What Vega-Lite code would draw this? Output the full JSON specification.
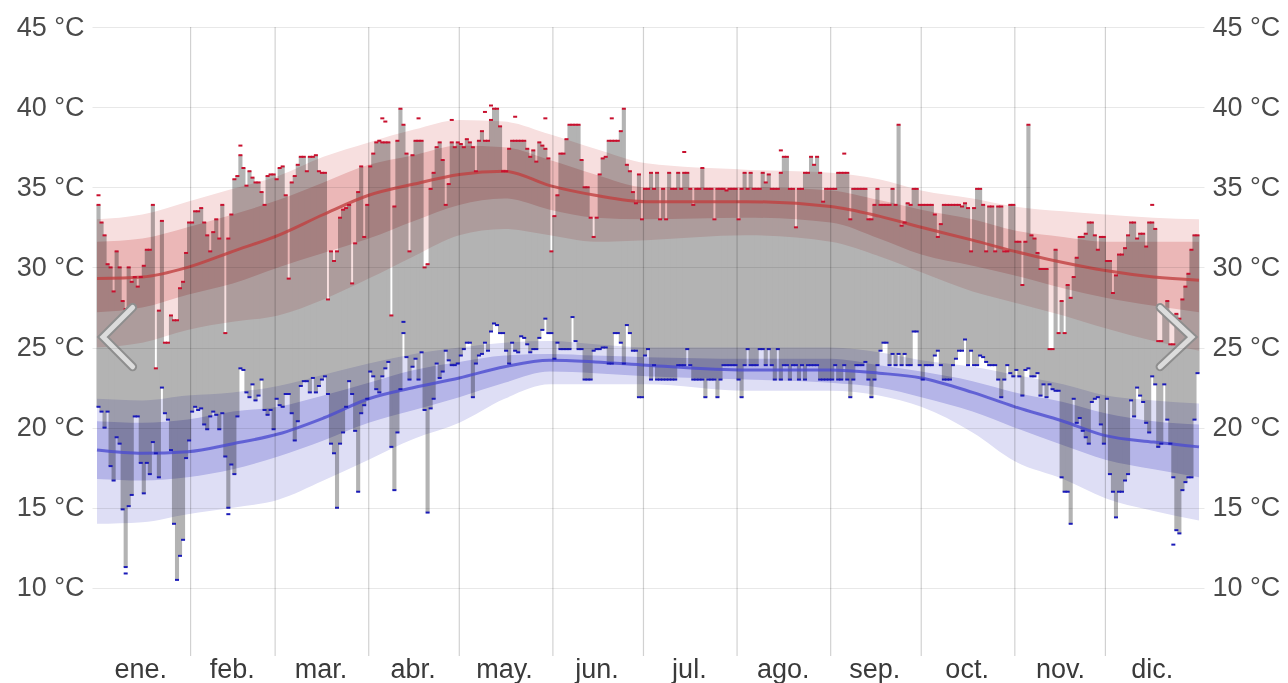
{
"$schema": "https://vega.github.io/schema/vega-lite/v6.json",
"width": 1112, "height": 629,
"autosize": {"type": "none"},
"padding": {"left": 92, "top": 27, "right": 84, "bottom": 27},
"background": "white",
"config": {"view": {"stroke": null}, "font": "Liberation Sans"},
"datasets": {
"days": [
{"d":0,"l":21.3,"h":33.9,"hx":34.5},{"d":1,"l":21.0,"h":32.8},{"d":2,"l":20.0,"h":32.0},{"d":3,"l":21.0,"h":30.2},{"d":4,"l":17.6,"h":30.0},{"d":5,"l":16.7,"h":28.5},{"d":6,"l":19.4,"h":31.0},{"d":7,"l":19.0,"h":30.0},{"d":8,"l":14.9,"h":27.9},{"d":9,"l":11.3,"h":27.4,"lx":10.9},
{"d":10,"l":15.1,"h":30.0},{"d":11,"l":15.8,"h":29.1},{"d":12,"l":20.7,"h":29.4},{"d":13,"l":20.7,"h":28.8},{"d":14,"l":17.8,"h":29.4},{"d":15,"l":15.9,"h":30.1},{"d":16,"l":17.8,"h":31.1},{"d":17,"l":17.1,"h":31.1},{"d":18,"l":19.1,"h":33.9},{"d":19,"l":18.4,"h":23.7},
{"d":20,"l":16.9,"h":27.3},{"d":21,"l":22.5,"h":32.9},{"d":22,"l":20.9,"h":25.3},{"d":23,"l":20.5,"h":25.3},{"d":24,"l":18.6,"h":27.0},{"d":25,"l":14.0,"h":26.7},{"d":26,"l":10.5,"h":26.7},{"d":27,"l":12.0,"h":28.7},{"d":28,"l":13.0,"h":29.1},{"d":29,"l":18.1,"h":30.9},
{"d":30,"l":19.2,"h":32.8},{"d":31,"l":21.0,"h":32.8},{"d":32,"l":21.3,"h":33.5},{"d":33,"l":21.1,"h":33.5},{"d":34,"l":21.2,"h":33.7},{"d":35,"l":20.2,"h":32.8},{"d":36,"l":19.9,"h":32.0},{"d":37,"l":20.7,"h":31.0},{"d":38,"l":21.0,"h":32.2},{"d":39,"l":20.8,"h":33.0},
{"d":40,"l":19.9,"h":31.8},{"d":41,"l":20.9,"h":33.9},{"d":42,"l":18.2,"h":25.9},{"d":43,"l":15.0,"h":31.8,"lx":14.6},{"d":44,"l":17.7,"h":33.3},{"d":45,"l":17.1,"h":35.5},{"d":46,"l":20.7,"h":35.7},{"d":47,"l":23.7,"h":37.0,"hx":37.6},{"d":48,"l":23.6,"h":36.2},{"d":49,"l":22.2,"h":35.1},
{"d":50,"l":21.9,"h":36.0},{"d":51,"l":22.7,"h":35.6},{"d":52,"l":21.7,"h":35.3},{"d":53,"l":22.0,"h":35.3},{"d":54,"l":23.0,"h":34.7},{"d":55,"l":21.1,"h":33.9},{"d":56,"l":20.8,"h":35.7},{"d":57,"l":21.1,"h":35.8},{"d":58,"l":19.9,"h":35.8},{"d":59,"l":21.8,"h":35.5},
{"d":60,"l":21.4,"h":36.2},{"d":61,"l":21.3,"h":36.3},{"d":62,"l":22.1,"h":34.5},{"d":63,"l":22.1,"h":29.3},{"d":64,"l":20.9,"h":35.3},{"d":65,"l":19.2,"h":35.7},{"d":66,"l":20.4,"h":36.4},{"d":67,"l":22.6,"h":36.9},{"d":68,"l":22.9,"h":36.9},{"d":69,"l":22.9,"h":36.0},
{"d":70,"l":22.2,"h":36.9},{"d":71,"l":23.1,"h":36.9},{"d":72,"l":22.2,"h":37.0},{"d":73,"l":22.6,"h":36.0},{"d":74,"l":23.0,"h":35.9},{"d":75,"l":23.2,"h":35.9},{"d":76,"l":22.1,"h":28.0},{"d":77,"l":19.0,"h":31.0},{"d":78,"l":18.4,"h":30.4},{"d":79,"l":15.0,"h":31.0},
{"d":80,"l":19.0,"h":33.1},{"d":81,"l":19.7,"h":33.6},{"d":82,"l":21.3,"h":33.7},{"d":83,"l":22.9,"h":33.9},{"d":84,"l":22.1,"h":29.0},{"d":85,"l":19.8,"h":31.5},{"d":86,"l":16.0,"h":34.7},{"d":87,"l":20.9,"h":36.3},{"d":88,"l":21.4,"h":31.9},{"d":89,"l":21.8,"h":33.9},
{"d":90,"l":23.5,"h":36.3},{"d":91,"l":23.2,"h":37.1},{"d":92,"l":22.4,"h":37.8},{"d":93,"l":22.2,"h":37.9},{"d":94,"l":23.2,"h":37.8,"hx":39.3},{"d":95,"l":23.7,"h":37.8,"hx":39.1},{"d":96,"l":24.1,"h":37.8},{"d":97,"l":18.8,"h":27.0},{"d":98,"l":16.1,"h":33.8},{"d":99,"l":19.7,"h":37.9},
{"d":100,"l":22.4,"h":39.9},{"d":101,"l":25.9,"h":38.9,"lx":26.6},{"d":102,"l":24.4,"h":37.1},{"d":103,"l":23.0,"h":31.0},{"d":104,"l":23.8,"h":37.0},{"d":105,"l":24.3,"h":37.9},{"d":106,"l":23.0,"h":37.9,"hx":39.3},{"d":107,"l":24.7,"h":37.9},{"d":108,"l":21.1,"h":30.0},{"d":109,"l":14.7,"h":30.2},
{"d":110,"l":21.2,"h":34.9},{"d":111,"l":21.8,"h":35.9},{"d":112,"l":24.0,"h":37.5},{"d":113,"l":23.1,"h":37.8},{"d":114,"l":23.5,"h":36.7},{"d":115,"l":24.8,"h":33.9},{"d":116,"l":24.2,"h":35.2},{"d":117,"l":23.9,"h":37.8,"hx":39.2},{"d":118,"l":23.9,"h":37.5},{"d":119,"l":24.0,"h":37.8},
{"d":120,"l":24.5,"h":37.7},{"d":121,"l":24.9,"h":37.5},{"d":122,"l":25.3,"h":38.0},{"d":123,"l":25.3,"h":37.8},{"d":124,"l":21.9,"h":37.5},{"d":125,"l":24.0,"h":36.0},{"d":126,"l":24.5,"h":37.9},{"d":127,"l":24.6,"h":38.5},{"d":128,"l":25.3,"h":37.9,"hx":39.7},{"d":129,"l":24.8,"h":37.9},
{"d":130,"l":26.0,"h":39.2,"hx":40.1},{"d":131,"l":26.5,"h":39.9},{"d":132,"l":26.4,"h":39.9},{"d":133,"l":25.9,"h":38.8},{"d":134,"l":25.9,"h":36.0},{"d":135,"l":24.8,"h":36.0},{"d":136,"l":24.0,"h":37.4},{"d":137,"l":25.3,"h":37.9},{"d":138,"l":24.8,"h":37.9,"hx":39.4},{"d":139,"l":24.7,"h":37.9},
{"d":140,"l":25.7,"h":37.9},{"d":141,"l":25.6,"h":37.9},{"d":142,"l":25.2,"h":37.4},{"d":143,"l":24.7,"h":36.9},{"d":144,"l":24.9,"h":37.3},{"d":145,"l":24.9,"h":36.6},{"d":146,"l":25.6,"h":37.8},{"d":147,"l":26.1,"h":37.6},{"d":148,"l":26.8,"h":37.4,"hx":39.3},{"d":149,"l":25.9,"h":36.8},
{"d":150,"l":25.9,"h":31.0},{"d":151,"l":24.3,"h":33.2},{"d":152,"l":25.3,"h":34.5},{"d":153,"l":24.9,"h":37.1},{"d":154,"l":24.9,"h":37.1},{"d":155,"l":24.9,"h":38.0},{"d":156,"l":24.9,"h":38.9},{"d":157,"l":26.9,"h":38.9},{"d":158,"l":25.4,"h":38.9},{"d":159,"l":24.9,"h":38.9},
{"d":160,"l":24.9,"h":36.7},{"d":161,"l":23.0,"h":35.0},{"d":162,"l":23.0,"h":35.0},{"d":163,"l":23.0,"h":33.1},{"d":164,"l":24.8,"h":31.9},{"d":165,"l":24.9,"h":33.1},{"d":166,"l":24.9,"h":35.8},{"d":167,"l":25.0,"h":36.8},{"d":168,"l":25.0,"h":36.9},{"d":169,"l":24.0,"h":37.9},
{"d":170,"l":24.0,"h":37.9,"hx":39.3},{"d":171,"l":25.9,"h":37.9},{"d":172,"l":25.9,"h":37.9},{"d":173,"l":25.3,"h":38.5},{"d":174,"l":24.0,"h":39.9},{"d":175,"l":26.4,"h":36.4},{"d":176,"l":25.9,"h":36.0},{"d":177,"l":24.8,"h":34.7},{"d":178,"l":24.8,"h":34.0},{"d":179,"l":21.9,"h":35.8},
{"d":180,"l":21.9,"h":33.0},{"d":181,"l":24.5,"h":34.9},{"d":182,"l":24.9,"h":34.9},{"d":183,"l":23.0,"h":35.9},{"d":184,"l":23.9,"h":34.9},{"d":185,"l":23.0,"h":35.9},{"d":186,"l":23.0,"h":33.0},{"d":187,"l":23.0,"h":34.9},{"d":188,"l":23.0,"h":33.0},{"d":189,"l":23.0,"h":35.9},
{"d":190,"l":23.0,"h":34.9},{"d":191,"l":23.0,"h":34.9},{"d":192,"l":23.9,"h":35.9},{"d":193,"l":23.9,"h":34.9},{"d":194,"l":23.9,"h":35.9,"hx":37.2},{"d":195,"l":24.9,"h":35.9},{"d":196,"l":23.9,"h":34.9},{"d":197,"l":23.0,"h":33.9},{"d":198,"l":23.0,"h":34.9},{"d":199,"l":23.0,"h":34.9},
{"d":200,"l":23.0,"h":36.2},{"d":201,"l":21.9,"h":34.9},{"d":202,"l":23.0,"h":34.9},{"d":203,"l":23.0,"h":34.9},{"d":204,"l":23.0,"h":33.0},{"d":205,"l":21.9,"h":34.9},{"d":206,"l":23.0,"h":34.9},{"d":207,"l":23.9,"h":34.9},{"d":208,"l":23.9,"h":34.8},{"d":209,"l":23.9,"h":34.9},
{"d":210,"l":23.9,"h":34.9},{"d":211,"l":23.9,"h":34.9},{"d":212,"l":23.0,"h":33.0},{"d":213,"l":21.9,"h":34.9},{"d":214,"l":23.9,"h":35.9},{"d":215,"l":24.9,"h":34.9},{"d":216,"l":23.9,"h":35.9},{"d":217,"l":23.9,"h":34.9},{"d":218,"l":23.9,"h":34.9},{"d":219,"l":24.9,"h":34.9},
{"d":220,"l":24.9,"h":35.9},{"d":221,"l":23.9,"h":35.3},{"d":222,"l":24.9,"h":35.8},{"d":223,"l":23.9,"h":34.9},{"d":224,"l":23.0,"h":34.9},{"d":225,"l":24.9,"h":34.9},{"d":226,"l":23.0,"h":35.9,"hx":37.3},{"d":227,"l":23.9,"h":36.9},{"d":228,"l":23.9,"h":36.9},{"d":229,"l":23.0,"h":34.9},
{"d":230,"l":23.9,"h":34.9},{"d":231,"l":23.9,"h":32.5},{"d":232,"l":23.0,"h":34.9},{"d":233,"l":23.9,"h":34.9},{"d":234,"l":23.0,"h":35.9},{"d":235,"l":23.9,"h":35.9},{"d":236,"l":23.9,"h":36.9},{"d":237,"l":23.9,"h":36.4},{"d":238,"l":23.9,"h":36.9},{"d":239,"l":23.0,"h":35.9},
{"d":240,"l":23.0,"h":34.1},{"d":241,"l":23.0,"h":34.9},{"d":242,"l":23.0,"h":34.9},{"d":243,"l":23.0,"h":34.9},{"d":244,"l":23.9,"h":34.9},{"d":245,"l":23.0,"h":35.9},{"d":246,"l":23.0,"h":35.9},{"d":247,"l":23.9,"h":35.9,"hx":37.1},{"d":248,"l":23.0,"h":35.9},{"d":249,"l":21.9,"h":33.0},
{"d":250,"l":23.0,"h":34.9},{"d":251,"l":23.9,"h":34.9},{"d":252,"l":23.9,"h":34.9},{"d":253,"l":23.9,"h":34.9},{"d":254,"l":24.1,"h":34.9},{"d":255,"l":23.0,"h":33.0},{"d":256,"l":21.9,"h":33.0},{"d":257,"l":23.0,"h":33.9},{"d":258,"l":23.9,"h":34.9},{"d":259,"l":24.8,"h":33.9},
{"d":260,"l":25.3,"h":33.9},{"d":261,"l":25.3,"h":33.9},{"d":262,"l":23.9,"h":33.9},{"d":263,"l":24.6,"h":34.9},{"d":264,"l":23.9,"h":33.9},{"d":265,"l":24.6,"h":38.9},{"d":266,"l":23.9,"h":32.6},{"d":267,"l":24.6,"h":32.8},{"d":268,"l":23.9,"h":34.0},{"d":269,"l":23.9,"h":33.9},
{"d":270,"l":26.0,"h":34.9},{"d":271,"l":26.0,"h":34.9},{"d":272,"l":23.9,"h":33.9},{"d":273,"l":23.0,"h":33.9},{"d":274,"l":23.9,"h":33.9},{"d":275,"l":23.9,"h":33.9},{"d":276,"l":23.9,"h":33.9},{"d":277,"l":24.5,"h":33.3},{"d":278,"l":24.8,"h":31.9},{"d":279,"l":23.9,"h":32.7},
{"d":280,"l":23.0,"h":33.9},{"d":281,"l":23.0,"h":33.9},{"d":282,"l":23.0,"h":33.9},{"d":283,"l":23.9,"h":33.9},{"d":284,"l":24.3,"h":33.9},{"d":285,"l":24.8,"h":33.9},{"d":286,"l":24.8,"h":33.8},{"d":287,"l":25.5,"h":34.0},{"d":288,"l":23.9,"h":33.7},{"d":289,"l":24.8,"h":31.0},
{"d":290,"l":23.9,"h":33.7},{"d":291,"l":23.9,"h":34.9},{"d":292,"l":24.5,"h":34.9},{"d":293,"l":24.4,"h":33.9},{"d":294,"l":24.1,"h":31.0},{"d":295,"l":23.9,"h":33.8},{"d":296,"l":23.9,"h":33.8},{"d":297,"l":23.9,"h":31.0},{"d":298,"l":23.0,"h":33.8},{"d":299,"l":21.9,"h":33.8},
{"d":300,"l":23.0,"h":31.0},{"d":301,"l":23.9,"h":31.0},{"d":302,"l":23.4,"h":33.9},{"d":303,"l":23.2,"h":33.9},{"d":304,"l":23.6,"h":31.6},{"d":305,"l":23.2,"h":31.6},{"d":306,"l":22.0,"h":28.9},{"d":307,"l":23.6,"h":31.6},{"d":308,"l":23.7,"h":38.9},{"d":309,"l":23.2,"h":32.0},
{"d":310,"l":23.2,"h":31.8},{"d":311,"l":23.4,"h":30.9},{"d":312,"l":22.0,"h":29.9},{"d":313,"l":22.7,"h":29.9},{"d":314,"l":21.9,"h":29.9},{"d":315,"l":22.7,"h":24.9},{"d":316,"l":22.4,"h":24.9},{"d":317,"l":22.3,"h":31.1},{"d":318,"l":22.3,"h":25.9},{"d":319,"l":16.9,"h":27.9},
{"d":320,"l":16.0,"h":25.9},{"d":321,"l":16.0,"h":28.9},{"d":322,"l":14.0,"h":28.1},{"d":323,"l":21.8,"h":29.4},{"d":324,"l":20.3,"h":30.6},{"d":325,"l":20.6,"h":31.9},{"d":326,"l":19.8,"h":31.9},{"d":327,"l":19.4,"h":32.1},{"d":328,"l":19.0,"h":32.8},{"d":329,"l":21.6,"h":32.8},
{"d":330,"l":21.8,"h":32.0},{"d":331,"l":21.9,"h":31.1},{"d":332,"l":20.2,"h":31.9},{"d":333,"l":19.0,"h":31.9},{"d":334,"l":21.8,"h":30.4},{"d":335,"l":17.1,"h":30.4},{"d":336,"l":16.0,"h":28.4},{"d":337,"l":14.4,"h":29.5},{"d":338,"l":16.0,"h":30.8},{"d":339,"l":16.0,"h":30.8},
{"d":340,"l":16.7,"h":31.2},{"d":341,"l":17.1,"h":32.0},{"d":342,"l":21.7,"h":32.8},{"d":343,"l":20.7,"h":32.8},{"d":344,"l":22.5,"h":31.8},{"d":345,"l":22.0,"h":32.1},{"d":346,"l":21.6,"h":32.1},{"d":347,"l":20.3,"h":31.3},{"d":348,"l":19.7,"h":32.8},{"d":349,"l":23.2,"h":32.8,"hx":33.9},
{"d":350,"l":22.7,"h":32.4},{"d":351,"l":18.8,"h":25.4},{"d":352,"l":19.0,"h":25.4},{"d":353,"l":22.7,"h":27.4},{"d":354,"l":20.5,"h":27.9},{"d":355,"l":19.0,"h":25.2},{"d":356,"l":16.9,"h":25.2,"lx":12.7},{"d":357,"l":13.6,"h":27.1},{"d":358,"l":13.4,"h":26.8},{"d":359,"l":16.1,"h":28.0},
{"d":360,"l":16.6,"h":28.8},{"d":361,"l":16.9,"h":29.6},{"d":362,"l":16.9,"h":31.1},{"d":363,"l":20.5,"h":32.0},{"d":364,"l":23.4,"h":32.0}
],
"clim": [
{"x":-0.5,"h90":33.0,"h75":31.6,"h":29.3,"h25":27.2,"h10":25.0,"l90":21.8,"l75":20.4,"l":18.6,"l25":16.8,"l10":14.0},
{"x":14.5,"h90":33.3,"h75":31.8,"h":29.4,"h25":27.5,"h10":25.3,"l90":21.7,"l75":20.3,"l":18.4,"l25":16.7,"l10":14.1},
{"x":29.5,"h90":34.1,"h75":32.5,"h":30.0,"h25":28.3,"h10":26.1,"l90":22.0,"l75":20.5,"l":18.5,"l25":16.9,"l10":14.6},
{"x":44.5,"h90":34.9,"h75":33.3,"h":31.0,"h25":29.0,"h10":26.6,"l90":22.2,"l75":21.0,"l":19.0,"l25":17.4,"l10":15.0},
{"x":59.5,"h90":35.7,"h75":34.2,"h":32.0,"h25":30.0,"h10":27.0,"l90":22.6,"l75":21.3,"l":19.6,"l25":18.2,"l10":15.5},
{"x":74.5,"h90":36.9,"h75":35.3,"h":33.3,"h25":30.9,"h10":28.0,"l90":23.3,"l75":22.0,"l":20.6,"l25":19.2,"l10":16.7},
{"x":89.5,"h90":37.8,"h75":36.4,"h":34.5,"h25":31.8,"h10":29.3,"l90":24.0,"l75":22.8,"l":21.8,"l25":20.3,"l10":18.0},
{"x":104.5,"h90":38.6,"h75":37.0,"h":35.2,"h25":32.9,"h10":30.7,"l90":24.6,"l75":23.6,"l":22.5,"l25":21.1,"l10":19.3},
{"x":119.5,"h90":39.2,"h75":37.6,"h":35.8,"h25":33.9,"h10":32.0,"l90":25.0,"l75":24.1,"l":23.1,"l25":21.9,"l10":20.3},
{"x":134.5,"h90":39.1,"h75":37.5,"h":36.0,"h25":34.3,"h10":32.4,"l90":25.3,"l75":24.5,"l":23.8,"l25":22.8,"l10":21.8},
{"x":149.5,"h90":38.3,"h75":36.7,"h":35.1,"h25":33.6,"h10":32.0,"l90":25.4,"l75":24.6,"l":24.2,"l25":23.5,"l10":22.7},
{"x":164.5,"h90":37.4,"h75":35.8,"h":34.5,"h25":33.1,"h10":31.6,"l90":25.2,"l75":24.5,"l":24.1,"l25":23.4,"l10":22.7},
{"x":181.5,"h90":36.5,"h75":35.0,"h":34.1,"h25":33.0,"h10":31.7,"l90":25.0,"l75":24.4,"l":23.9,"l25":23.2,"l10":22.7},
{"x":214.5,"h90":36.1,"h75":35.0,"h":34.1,"h25":33.1,"h10":32.0,"l90":25.0,"l75":24.3,"l":23.6,"l25":23.0,"l10":22.3},
{"x":242.5,"h90":35.9,"h75":34.8,"h":33.8,"h25":32.8,"h10":31.6,"l90":25.0,"l75":24.3,"l":23.6,"l25":22.8,"l10":22.3},
{"x":258.5,"h90":35.5,"h75":34.2,"h":33.2,"h25":31.8,"h10":30.7,"l90":24.7,"l75":23.9,"l":23.4,"l25":22.5,"l10":22.0},
{"x":272.5,"h90":34.8,"h75":33.6,"h":32.5,"h25":30.8,"h10":29.7,"l90":24.2,"l75":23.5,"l":23.1,"l25":21.9,"l10":21.3},
{"x":289.5,"h90":34.3,"h75":33.0,"h":31.7,"h25":30.1,"h10":28.5,"l90":23.8,"l75":22.9,"l":22.2,"l25":21.0,"l10":19.7},
{"x":303.5,"h90":33.8,"h75":32.3,"h":31.0,"h25":29.5,"h10":27.8,"l90":23.3,"l75":22.2,"l":21.3,"l25":20.0,"l10":17.9},
{"x":319.5,"h90":33.5,"h75":31.9,"h":30.3,"h25":28.7,"h10":27.0,"l90":22.7,"l75":21.6,"l":20.4,"l25":18.9,"l10":16.8},
{"x":333.5,"h90":33.3,"h75":31.6,"h":29.8,"h25":28.1,"h10":26.2,"l90":22.0,"l75":20.9,"l":19.5,"l25":18.0,"l10":15.6},
{"x":349.5,"h90":33.1,"h75":31.6,"h":29.4,"h25":27.6,"h10":25.4,"l90":21.7,"l75":20.4,"l":19.1,"l25":17.4,"l10":14.8},
{"x":364.5,"h90":33.0,"h75":31.6,"h":29.2,"h25":27.2,"h10":24.8,"l90":21.5,"l75":20.2,"l":18.8,"l25":16.9,"l10":14.2}
],
"months": [{"s":30.5},{"s":58.5},{"s":89.5},{"s":119.5},{"s":150.5},{"s":180.5},{"s":211.5},{"s":242.5},{"s":272.5},{"s":303.5},{"s":333.5}],
"mlab": [{"m":"ene.","c":14},{"m":"feb.","c":44.3},{"m":"mar.","c":73.7},{"m":"abr.","c":104.2},{"m":"may.","c":134.5},{"m":"jun.","c":165.1},{"m":"jul.","c":195.7},{"m":"ago.","c":226.8},{"m":"sep.","c":257.1},{"m":"oct.","c":287.7},{"m":"nov.","c":318.6},{"m":"dic.","c":349}],
"nav": [
{"g":"L","o":0,"x":11.3,"y":27.5},{"g":"L","o":1,"x":1.5,"y":25.65},{"g":"L","o":2,"x":11.3,"y":23.8},
{"g":"R","o":0,"x":351.6,"y":27.5},{"g":"R","o":1,"x":362.1,"y":25.65},{"g":"R","o":2,"x":351.6,"y":23.8}
]
},
"layer": [
{"data": {"name": "days"},
 "mark": {"type": "bar", "orient": "vertical", "size": 4.1, "color": "#b3b3b3"},
 "encoding": {
  "x": {"field": "d", "type": "quantitative", "scale": {"domain": [-0.5, 364.5], "nice": false, "zero": false}, "axis": null},
  "y": {"field": "l", "type": "quantitative", "scale": {"domain": [5.75, 45], "nice": false, "zero": false},
        "axis": {"orient": "left", "values": [10, 15, 20, 25, 30, 35, 40, 45], "labelExpr": "datum.value + ' °C'",
                 "grid": true, "gridColor": "#000000", "gridOpacity": 0.09, "ticks": false, "domain": false, "title": null,
                 "labelFontSize": 27, "labelColor": "#4a4a4a", "labelPadding": 8, "zindex": 1}},
  "y2": {"field": "h"}
 }},
{"data": {"name": "clim"},
 "mark": {"type": "area", "interpolate": "monotone", "color": "#f7dfdf", "blend": "multiply"},
 "encoding": {"x": {"field": "x", "type": "quantitative", "scale": {"domain": [-0.5, 364.5], "nice": false, "zero": false}, "axis": null},
  "y": {"field": "h10", "type": "quantitative", "scale": {"domain": [5.75, 45], "nice": false, "zero": false}, "axis": null}, "y2": {"field": "h90"}}},
{"data": {"name": "clim"},
 "mark": {"type": "area", "interpolate": "monotone", "color": "#f3d2d2", "blend": "multiply"},
 "encoding": {"x": {"field": "x", "type": "quantitative", "scale": {"domain": [-0.5, 364.5], "nice": false, "zero": false}, "axis": null},
  "y": {"field": "h25", "type": "quantitative", "scale": {"domain": [5.75, 45], "nice": false, "zero": false}, "axis": null}, "y2": {"field": "h75"}}},
{"data": {"name": "clim"},
 "mark": {"type": "area", "interpolate": "monotone", "color": "#dedef5", "blend": "multiply"},
 "encoding": {"x": {"field": "x", "type": "quantitative", "scale": {"domain": [-0.5, 364.5], "nice": false, "zero": false}, "axis": null},
  "y": {"field": "l10", "type": "quantitative", "scale": {"domain": [5.75, 45], "nice": false, "zero": false}, "axis": null}, "y2": {"field": "l90"}}},
{"data": {"name": "clim"},
 "mark": {"type": "area", "interpolate": "monotone", "color": "#d0d0f2", "blend": "multiply"},
 "encoding": {"x": {"field": "x", "type": "quantitative", "scale": {"domain": [-0.5, 364.5], "nice": false, "zero": false}, "axis": null},
  "y": {"field": "l25", "type": "quantitative", "scale": {"domain": [5.75, 45], "nice": false, "zero": false}, "axis": null}, "y2": {"field": "l75"}}},
{"data": {"name": "clim"},
 "mark": {"type": "line", "interpolate": "monotone", "color": "#c04040", "strokeWidth": 3, "opacity": 0.8},
 "encoding": {"x": {"field": "x", "type": "quantitative", "scale": {"domain": [-0.5, 364.5], "nice": false, "zero": false}, "axis": null},
  "y": {"field": "h", "type": "quantitative", "scale": {"domain": [5.75, 45], "nice": false, "zero": false}, "axis": null}}},
{"data": {"name": "clim"},
 "mark": {"type": "line", "interpolate": "monotone", "color": "#4c4cd0", "strokeWidth": 3, "opacity": 0.8},
 "encoding": {"x": {"field": "x", "type": "quantitative", "scale": {"domain": [-0.5, 364.5], "nice": false, "zero": false}, "axis": null},
  "y": {"field": "l", "type": "quantitative", "scale": {"domain": [5.75, 45], "nice": false, "zero": false},
        "axis": {"orient": "right", "values": [10, 15, 20, 25, 30, 35, 40, 45], "labelExpr": "datum.value + ' °C'",
                 "grid": false, "ticks": false, "domain": false, "title": null,
                 "labelFontSize": 27, "labelColor": "#4a4a4a", "labelPadding": 8}}}},
{"data": {"name": "months"},
 "mark": {"type": "rule", "color": "#000000", "opacity": 0.18, "strokeWidth": 1.2},
 "encoding": {"x": {"field": "s", "type": "quantitative", "scale": {"domain": [-0.5, 364.5], "nice": false, "zero": false}, "axis": null}}},
{"data": {"name": "mlab"},
 "mark": {"type": "text", "fontSize": 27, "color": "#3a3a3a", "align": "center", "baseline": "alphabetic"},
 "encoding": {"x": {"field": "c", "type": "quantitative", "scale": {"domain": [-0.5, 364.5], "nice": false, "zero": false}, "axis": null},
  "y": {"datum": 4.35, "type": "quantitative", "scale": {"domain": [5.75, 45], "nice": false, "zero": false}, "axis": null},
  "text": {"field": "m"}}},
{"data": {"name": "days"},
 "mark": {"type": "point", "shape": "M-1,-0.5H1V0.5H-1Z", "size": 16, "filled": true, "color": "#c8102e", "opacity": 1},
 "encoding": {"x": {"field": "d", "type": "quantitative", "scale": {"domain": [-0.5, 364.5], "nice": false, "zero": false}, "axis": null},
  "y": {"field": "h", "type": "quantitative", "scale": {"domain": [5.75, 45], "nice": false, "zero": false}, "axis": null}}},
{"data": {"name": "days"},
 "mark": {"type": "point", "shape": "M-1,-0.5H1V0.5H-1Z", "size": 16, "filled": true, "color": "#1a1ab8", "opacity": 1},
 "encoding": {"x": {"field": "d", "type": "quantitative", "scale": {"domain": [-0.5, 364.5], "nice": false, "zero": false}, "axis": null},
  "y": {"field": "l", "type": "quantitative", "scale": {"domain": [5.75, 45], "nice": false, "zero": false}, "axis": null}}},
{"data": {"name": "days"},
 "transform": [{"filter": "isValid(datum.hx)"}],
 "mark": {"type": "point", "shape": "M-1,-0.5H1V0.5H-1Z", "size": 16, "filled": true, "color": "#c8102e", "opacity": 1},
 "encoding": {"x": {"field": "d", "type": "quantitative", "scale": {"domain": [-0.5, 364.5], "nice": false, "zero": false}, "axis": null},
  "y": {"field": "hx", "type": "quantitative", "scale": {"domain": [5.75, 45], "nice": false, "zero": false}, "axis": null}}},
{"data": {"name": "days"},
 "transform": [{"filter": "isValid(datum.lx)"}],
 "mark": {"type": "point", "shape": "M-1,-0.5H1V0.5H-1Z", "size": 16, "filled": true, "color": "#1a1ab8", "opacity": 1},
 "encoding": {"x": {"field": "d", "type": "quantitative", "scale": {"domain": [-0.5, 364.5], "nice": false, "zero": false}, "axis": null},
  "y": {"field": "lx", "type": "quantitative", "scale": {"domain": [5.75, 45], "nice": false, "zero": false}, "axis": null}}},
{"data": {"name": "nav"},
 "mark": {"type": "line", "color": "#8e8e8e", "strokeWidth": 9, "strokeCap": "round", "strokeJoin": "miter"},
 "encoding": {"x": {"field": "x", "type": "quantitative", "scale": {"domain": [-0.5, 364.5], "nice": false, "zero": false}, "axis": null},
  "y": {"field": "y", "type": "quantitative", "scale": {"domain": [5.75, 45], "nice": false, "zero": false}, "axis": null},
  "detail": {"field": "g"}, "order": {"field": "o"}}},
{"data": {"name": "nav"},
 "mark": {"type": "line", "color": "#dcdcdc", "strokeWidth": 5, "strokeCap": "round", "strokeJoin": "miter"},
 "encoding": {"x": {"field": "x", "type": "quantitative", "scale": {"domain": [-0.5, 364.5], "nice": false, "zero": false}, "axis": null},
  "y": {"field": "y", "type": "quantitative", "scale": {"domain": [5.75, 45], "nice": false, "zero": false}, "axis": null},
  "detail": {"field": "g"}, "order": {"field": "o"}}}
]
}
